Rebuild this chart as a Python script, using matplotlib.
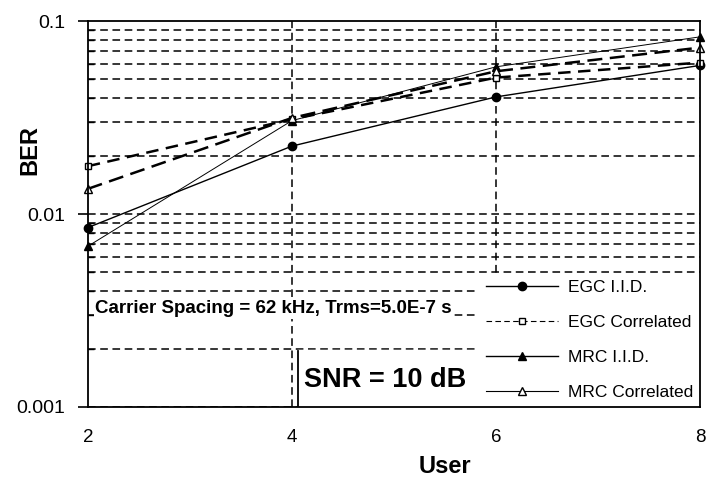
import numpy as np
import matplotlib.pyplot as plt
from matplotlib.lines import Line2D
from matplotlib.ticker import LogLocator, NullFormatter, FixedLocator

plt.rcParams['font.family'] = ['Liberation Sans', 'DejaVu Sans']

# BER versus number of users, SNR = 10 dB
users = [2, 4, 6, 8]
egc_iid = [0.0085, 0.0225, 0.0405, 0.059]
egc_corr = [0.0177, 0.031, 0.051, 0.061]
mrc_iid = [0.0068, 0.0305, 0.058, 0.083]
mrc_corr = [0.0135, 0.0315, 0.055, 0.073]
xticks = [2, 4, 6, 8]
yticks = [0.001, 0.01, 0.1]
ytick_labels = ['0.001', '0.01', '0.1']

fig = plt.figure(figsize=(7.08, 4.82), dpi=100)
ax = fig.add_axes([0.124, 0.156, 0.865, 0.800])

ax.set_yscale('log')
ax.set_xlim(2, 8)
ax.set_ylim(0.001, 0.1)

# dashed grid at every decade and sub-decade, vertical at the inner users
for dec in [0.001, 0.01]:
    for m in range(1, 10):
        ax.axhline(dec * m, color='black', lw=1.1, ls=(0, (5, 3)), zorder=1)
for xv in [4, 6]:
    ax.axvline(xv, color='black', lw=1.1, ls=(0, (5, 3)), zorder=1)

ax.plot(users, egc_iid, color='black', lw=1.0, marker='o', ms=6,
        mfc='black', zorder=4, clip_on=False)
ax.plot(users, egc_corr, color='black', lw=1.8, ls=(0, (5, 3)), marker='s', ms=5,
        mfc='white', zorder=4, clip_on=False)
ax.plot(users, mrc_iid, color='black', lw=0.7, marker='^', ms=6,
        mfc='black', zorder=4, clip_on=False)
ax.plot(users, mrc_corr, color='black', lw=1.8, ls=(0, (6, 3)), marker='^', ms=6,
        mfc='white', zorder=4, clip_on=False)

ax.xaxis.set_major_locator(FixedLocator(xticks))
ax.set_xticklabels([str(x) for x in xticks], fontsize=13.5)
ax.yaxis.set_major_locator(FixedLocator(yticks))
ax.set_yticklabels(ytick_labels, fontsize=14)
ax.yaxis.set_minor_locator(LogLocator(base=10, subs=np.arange(2, 10)))
ax.yaxis.set_minor_formatter(NullFormatter())
ax.tick_params(axis='y', which='major', direction='out', length=7, width=1.2, pad=9)
ax.tick_params(axis='y', which='minor', direction='in', length=4, width=1.0)
ax.tick_params(axis='x', which='major', length=0, pad=16)
for s in ax.spines.values():
    s.set_linewidth(1.3)
    s.set_zorder(10)

ax.set_xlabel('User', fontsize=17, fontweight='bold')
ax.xaxis.set_label_coords(0.583, -0.125)
ax.set_ylabel('BER', fontsize=17, fontweight='bold')
ax.yaxis.set_label_coords(-0.075, 0.666)

ax.text(2.07, 0.00322, 'Carrier Spacing = 62 kHz, Trms=5.0E-7 s', fontsize=13.5,
        fontweight='bold', va='center', ha='left', zorder=5,
        bbox=dict(facecolor='white', edgecolor='none', pad=1))

# SNR box with a line on its left edge
ax.fill_between([4.06, 5.85], 0.001, 0.00196, color='white', zorder=3)
ax.plot([4.06, 4.06], [0.00101, 0.00194], color='black', lw=1.3, zorder=5)
ax.text(4.12, 0.00138, 'SNR = 10 dB', fontsize=19.5, fontweight='bold',
        va='center', ha='left', zorder=5)

handles = [
    Line2D([], [], color='black', lw=1.0, marker='o', ms=6, mfc='black'),
    Line2D([], [], color='black', lw=0.8, ls=(0, (5, 3)), marker='s', ms=5, mfc='white'),
    Line2D([], [], color='black', lw=1.0, marker='^', ms=6, mfc='black'),
    Line2D([], [], color='black', lw=0.8, marker='^', ms=6, mfc='white'),
]
labels = ['EGC I.I.D.', 'EGC Correlated', 'MRC I.I.D.', 'MRC Correlated']
leg = ax.legend(handles, labels, loc='lower right', fontsize=12.5,
                handlelength=4.1, labelspacing=1.14, borderaxespad=0.0,
                borderpad=0.4, handletextpad=0.6, fancybox=False,
                framealpha=1.0, edgecolor='none', facecolor='white')
leg.set_zorder(6)

fig.savefig('out.png', dpi=100)
